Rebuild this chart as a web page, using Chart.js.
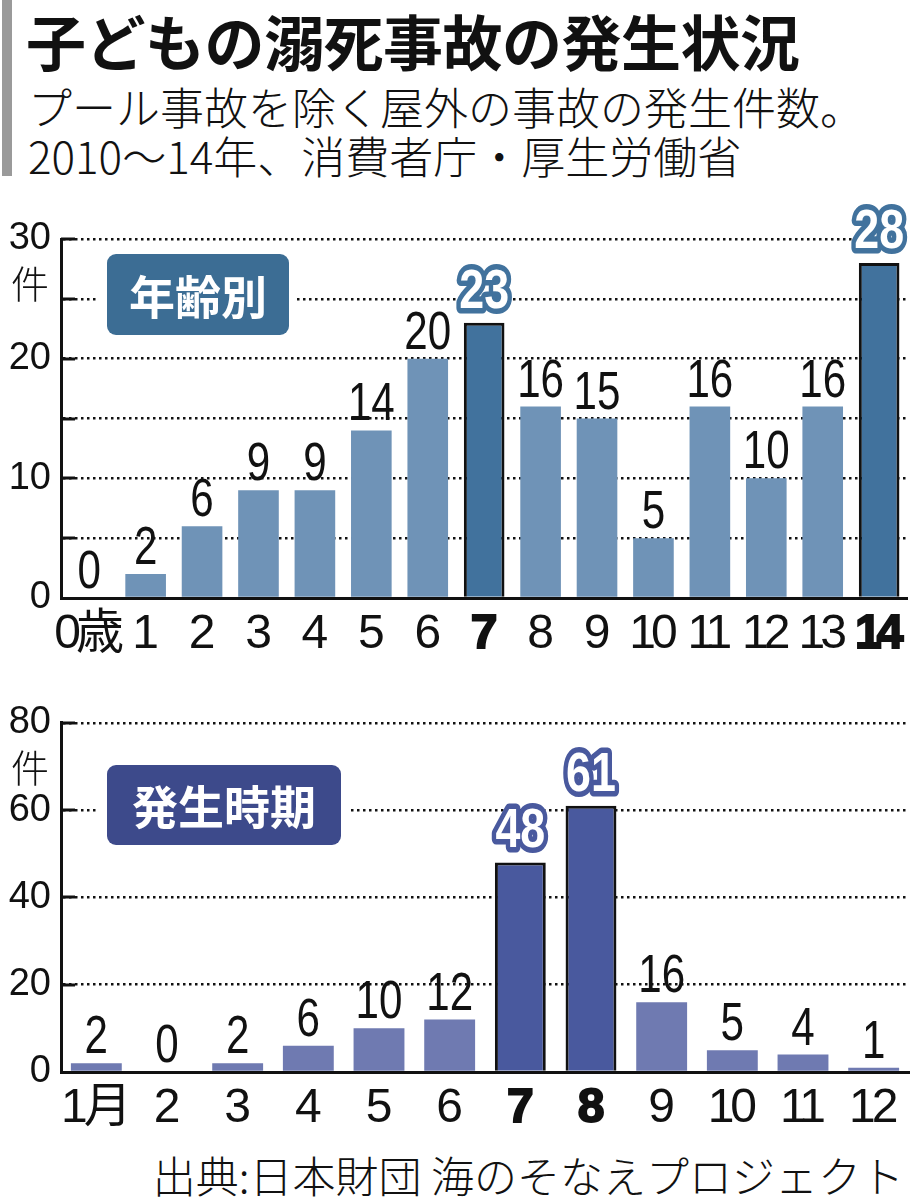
<!DOCTYPE html>
<html lang="ja">
<head>
<meta charset="utf-8">
<script src="https://cdn.jsdelivr.net/npm/chart.js@4.4.1/dist/chart.umd.min.js"></script>
<style>
  html, body { margin: 0; padding: 0; background: #fff; }
  body { width: 914px; height: 1200px; position: relative; overflow: hidden; font-family: 'Noto Sans CJK JP', sans-serif; color: #111; }
  .bar-mark { position: absolute; left: 2px; top: 0; width: 10px; height: 176px; background: #9a9a9a; }
  .title { position: absolute; left: 26px; top: -4px; font-size: 60px; font-weight: bold; letter-spacing: -0.5px; white-space: nowrap; }
  .sub { position: absolute; left: 28px; font-size: 44px; font-weight: 300; white-space: nowrap; line-height: 1; }
  .source { position: absolute; right: 10px; top: 1143px; font-size: 43px; font-weight: 300; white-space: nowrap; }
  .chart-box { position: absolute; left: 0; width: 914px; }
</style>
</head>
<body>
  <div class="bar-mark"></div>
  <div class="title">子どもの溺死事故の発生状況</div>
  <div class="sub" style="top:84px">プール事故を除く屋外の事故の発生件数。</div>
  <div class="sub" style="top:133px">2010～14年、消費者庁・厚生労働省</div>
  <div class="chart-box" style="top:190px;height:480px"><canvas id="age-chart"></canvas></div>
  <div class="chart-box" style="top:690px;height:450px"><canvas id="month-chart"></canvas></div>
  <div class="source">出典:日本財団 海のそなえプロジェクト</div>

<script>
// 年齢別
const ageLabels = ['0歳', '1', '2', '3', '4', '5', '6', '7', '8', '9', '10', '11', '12', '13', '14'];
const ageCounts = [0, 2, 6, 9, 9, 14, 20, 23, 16, 15, 5, 16, 10, 16, 28];
const ageHighlight = ['7', '14'];
const ageTickValues = [0, 10, 20, 30];

// 発生時期
const monthLabels = ['1月', '2', '3', '4', '5', '6', '7', '8', '9', '10', '11', '12'];
const monthCounts = [2, 0, 2, 6, 10, 12, 48, 61, 16, 5, 4, 1];
const monthHighlight = ['7', '8'];
const monthTickValues = [0, 20, 40, 60, 80];

const PLAIN = "'Liberation Sans','Noto Sans CJK JP',sans-serif";
const JP = "'Noto Sans CJK JP',sans-serif";

// text squeezed horizontally, the graphic uses condensed numerals
function narrowText(ctx, txt, x, y, sx, stroke) {
  ctx.save();
  ctx.translate(x, y);
  ctx.scale(sx, 1);
  if (stroke) ctx.strokeText(txt, 0, 0);
  ctx.fillText(txt, 0, 0);
  ctx.restore();
}

// in-axis solid tick marks, tag box, "件" unit and value labels
const decorPlugin = {
  id: 'decor',
  afterLayout(chart, args, opts) {
    // tighter letter spacing for the category labels
    const xs = chart.scales.x;
    if (xs._tight) return;
    const orig = xs.drawLabels;
    const ls = opts.letterSpacing;
    xs.drawLabels = function (area) {
      const c = this.ctx;
      c.save();
      c.letterSpacing = ls + 'px';
      c.translate(ls / 2, 0);
      orig.call(this, area);
      c.restore();
    };
    xs._tight = true;
  },
  beforeDatasetsDraw(chart, args, opts) {
    const { ctx, chartArea, scales } = chart;
    const y = scales.y;
    ctx.save();
    ctx.strokeStyle = '#111';
    ctx.lineWidth = 3;
    y.ticks.forEach(t => {
      if (t.value === 0) return;
      const py = Math.round(y.getPixelForValue(t.value));
      ctx.beginPath();
      ctx.moveTo(chartArea.left, py);
      ctx.lineTo(chartArea.left + 14, py);
      ctx.stroke();
    });

    const b = opts.box;
    ctx.fillStyle = '#fff';
    ctx.fillRect(b.x - 8, b.y - 8, b.w + 16, b.h + 16);
    ctx.fillStyle = opts.boxColor;
    ctx.beginPath();
    ctx.roundRect(b.x, b.y, b.w, b.h, 9);
    ctx.fill();
    ctx.fillStyle = '#fff';
    ctx.font = 'bold 46px ' + JP;
    ctx.textAlign = 'center';
    ctx.textBaseline = 'middle';
    ctx.fillText(opts.boxText, b.x + b.w / 2, b.y + b.h / 2 + 2);

    ctx.fillStyle = '#111';
    ctx.font = '300 38px ' + JP;
    ctx.fillText('件', 30, y.getPixelForValue(y.max) + 45);
    ctx.restore();
  },
  afterDatasetsDraw(chart, args, opts) {
    const { ctx } = chart;
    const meta = chart.getDatasetMeta(0);
    const labels = chart.data.labels;
    const values = chart.data.datasets[0].data;
    ctx.save();
    ctx.textAlign = 'center';
    ctx.textBaseline = 'alphabetic';
    meta.data.forEach((bar, i) => {
      const txt = String(values[i]);
      if (opts.highlight.includes(labels[i])) {
        ctx.font = 'bold 56px ' + PLAIN;
        ctx.lineJoin = 'round';
        ctx.lineWidth = 11;
        ctx.strokeStyle = opts.dark;
        ctx.fillStyle = '#fff';
        narrowText(ctx, txt, bar.x, bar.y - 15, 0.8, true);
      } else {
        ctx.font = '54px ' + PLAIN;
        ctx.fillStyle = '#111';
        narrowText(ctx, txt, bar.x, bar.y - 10, 0.78, false);
      }
    });
    ctx.restore();
  }
};

function buildChart(canvasId, labels, counts, highlight, tickValues, look) {
  const isHi = i => highlight.includes(labels[i]);
  return new Chart(document.getElementById(canvasId), {
    type: 'bar',
    data: {
      labels: labels,
      datasets: [{
        data: counts,
        backgroundColor: labels.map((l, i) => isHi(i) ? look.dark : look.light),
        borderColor: '#111',
        borderWidth: labels.map((l, i) => isHi(i) ? 3 : 0),
        barPercentage: 0.72,
        categoryPercentage: 1.0,
      }]
    },
    options: {
      responsive: true,
      maintainAspectRatio: false,
      animation: false,
      events: [],
      layout: { padding: { top: look.padTop, right: 5, left: 0, bottom: 0 } },
      plugins: {
        legend: { display: false },
        tooltip: { enabled: false },
        decor: {
          box: look.box,
          boxColor: look.boxColor,
          boxText: look.boxText,
          highlight: highlight,
          dark: look.dark,
          letterSpacing: look.letterSpacing,
        }
      },
      scales: {
        x: {
          grid: { display: false, drawTicks: false },
          border: { display: true, color: '#111', width: 3 },
          afterFit: s => { s.height = look.xHeight; },
          ticks: {
            autoRotate: false,
            maxRotation: 0,
            autoSkip: false,
            padding: 8,
            color: '#111',
            font: ctx => ({
              family: PLAIN,
              size: 48,
              weight: highlight.includes(labels[ctx.index]) ? 'bold' : 'normal',
            }),
            textStrokeColor: '#111',
            textStrokeWidth: ctx => highlight.includes(labels[ctx.index]) ? 2 : 0,
          }
        },
        y: {
          min: 0,
          max: tickValues[tickValues.length - 1],
          afterFit: s => { s.width = 61; },
          grid: {
            drawTicks: false,
            color: ctx => ctx.tick && ctx.tick.value === 0 ? 'rgba(0,0,0,0)' : '#111',
            lineWidth: 2.5,
          },
          border: { display: true, color: '#111', width: 3, dash: [2.5, 3.5] },
          ticks: {
            stepSize: look.step,
            padding: 10,
            color: '#111',
            font: { family: PLAIN, size: 38 },
            callback: v => tickValues.includes(v) ? String(v) : '',
          }
        }
      }
    },
    plugins: [decorPlugin]
  });
}

buildChart('age-chart', ageLabels, ageCounts, ageHighlight, ageTickValues, {
  light: '#6f93b7', dark: '#41729d', boxColor: '#3c6d94', boxText: '年齢別',
  box: { x: 107, y: 64, w: 182, h: 81 },
  padTop: 49, xHeight: 72, step: 5, letterSpacing: -5,
});

buildChart('month-chart', monthLabels, monthCounts, monthHighlight, monthTickValues, {
  light: '#6f7ab1', dark: '#49599e', boxColor: '#3d4a8b', boxText: '発生時期',
  box: { x: 107, y: 75, w: 234, h: 80 },
  padTop: 24, xHeight: 68, step: 20, letterSpacing: -4,
});
</script>
</body>
</html>
